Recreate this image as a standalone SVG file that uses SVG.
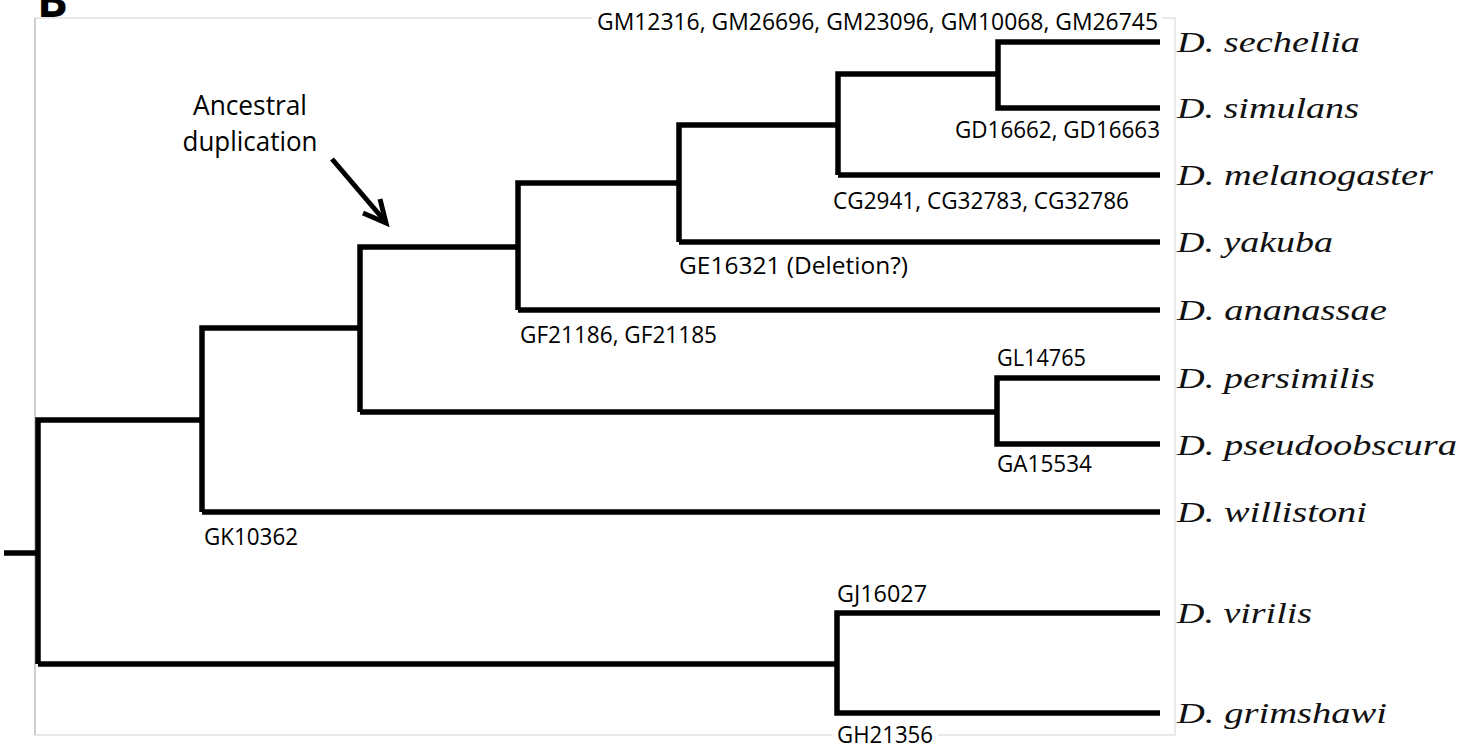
<svg xmlns="http://www.w3.org/2000/svg" width="1479" height="749" viewBox="0 0 1479 749">
<style>
.br{fill:none;stroke:#000;stroke-width:5.5;stroke-linejoin:miter;stroke-linecap:butt}
.gene{font-family:"Open Sans","Noto Sans","Liberation Sans",sans-serif;font-size:23.5px;fill:#000}
.sp{font-family:"Liberation Serif","Times New Roman",serif;font-style:italic;font-size:30px;fill:#111}
.ann{font-family:"Open Sans","Noto Sans","Liberation Sans",sans-serif;font-size:28px;fill:#000}
.bg{fill:#fff}
</style>
<rect width="1479" height="749" fill="#fff"/>
<!-- frame -->
<g id="frame">
<rect x="35" y="18" width="1140" height="717" fill="none" stroke="#e2e2e2" stroke-width="1.5"/>
<line x1="35" y1="18" x2="35" y2="735" stroke="#c4c4c4" stroke-width="1.5"/>
</g>
<text x="37" y="17" font-family="'Open Sans','Liberation Sans',sans-serif" font-weight="bold" font-size="46" fill="#000">B</text>
<g id="connectors">
<path class="br" d="M4,553 H38"/>
<path class="br" d="M38,664 V420 H202 M38,664 H837"/>
<path class="br" d="M202,512 V328 H360 M202,512 H1160"/>
<path class="br" d="M360,412 V247 H518 M360,412 H997"/>
<path class="br" d="M1160,378 H997 V444 H1160"/>
<path class="br" d="M518,310 V183 H679 M518,310 H1160"/>
<path class="br" d="M679,242 V125 H838 M679,242 H1160"/>
<path class="br" d="M838,175 V74 H998 M838,175 H1160"/>
<path class="br" d="M1160,42 H998 V108 H1160"/>
<path class="br" d="M1160,613 H837 V713 H1160"/>
<g id="arrow" fill="none" stroke="#000" stroke-width="5" stroke-linecap="butt">
<path d="M332,159 L384,220"/>
<path d="M380,199 L386,223 L363,213" stroke-linejoin="miter"/>
</g>
</g>
<g id="annotation">
<text class="ann" x="250" y="115" text-anchor="middle" textLength="114" lengthAdjust="spacingAndGlyphs">Ancestral</text>
<text class="ann" x="250" y="151" text-anchor="middle" textLength="135" lengthAdjust="spacingAndGlyphs">duplication</text>
</g>
<g id="gene-labels">
<g id="lbl-GM"><rect class="bg" x="592" y="8" width="570" height="26"/><text class="gene" x="597" y="30" textLength="561" lengthAdjust="spacingAndGlyphs">GM12316, GM26696, GM23096, GM10068, GM26745</text></g>
<g id="lbl-GD"><text class="gene" x="955" y="138" textLength="205" lengthAdjust="spacingAndGlyphs">GD16662, GD16663</text></g>
<g id="lbl-CG"><text class="gene" x="833" y="209" textLength="296" lengthAdjust="spacingAndGlyphs">CG2941, CG32783, CG32786</text></g>
<g id="lbl-GE"><text class="gene" x="679" y="274" textLength="229" lengthAdjust="spacingAndGlyphs">GE16321 (Deletion?)</text></g>
<g id="lbl-GF"><text class="gene" x="520" y="343" textLength="197" lengthAdjust="spacingAndGlyphs">GF21186, GF21185</text></g>
<g id="lbl-GL"><text class="gene" x="997" y="366" textLength="89" lengthAdjust="spacingAndGlyphs">GL14765</text></g>
<g id="lbl-GA"><text class="gene" x="997" y="472" textLength="95" lengthAdjust="spacingAndGlyphs">GA15534</text></g>
<g id="lbl-GK"><text class="gene" x="204" y="545" textLength="94" lengthAdjust="spacingAndGlyphs">GK10362</text></g>
<g id="lbl-GJ"><text class="gene" x="837" y="602" textLength="90" lengthAdjust="spacingAndGlyphs">GJ16027</text></g>
<g id="lbl-GH"><rect class="bg" x="832" y="724" width="106" height="24"/><text class="gene" x="837" y="743" textLength="96" lengthAdjust="spacingAndGlyphs">GH21356</text></g>
</g>
<g id="species">
<g id="sp-sechellia"><text class="sp" x="1177" y="52" textLength="183" lengthAdjust="spacingAndGlyphs">D. sechellia</text></g>
<g id="sp-simulans"><text class="sp" x="1177" y="118" textLength="182" lengthAdjust="spacingAndGlyphs">D. simulans</text></g>
<g id="sp-melanogaster"><text class="sp" x="1177" y="185" textLength="256" lengthAdjust="spacingAndGlyphs">D. melanogaster</text></g>
<g id="sp-yakuba"><text class="sp" x="1177" y="252" textLength="156" lengthAdjust="spacingAndGlyphs">D. yakuba</text></g>
<g id="sp-ananassae"><text class="sp" x="1177" y="320" textLength="210" lengthAdjust="spacingAndGlyphs">D. ananassae</text></g>
<g id="sp-persimilis"><text class="sp" x="1177" y="388" textLength="198" lengthAdjust="spacingAndGlyphs">D. persimilis</text></g>
<g id="sp-pseudoobscura"><text class="sp" x="1177" y="455" textLength="280" lengthAdjust="spacingAndGlyphs">D. pseudoobscura</text></g>
<g id="sp-willistoni"><text class="sp" x="1177" y="522" textLength="190" lengthAdjust="spacingAndGlyphs">D. willistoni</text></g>
<g id="sp-virilis"><text class="sp" x="1177" y="623" textLength="135" lengthAdjust="spacingAndGlyphs">D. virilis</text></g>
<g id="sp-grimshawi"><text class="sp" x="1177" y="723" textLength="210" lengthAdjust="spacingAndGlyphs">D. grimshawi</text></g>
</g>
</svg>
